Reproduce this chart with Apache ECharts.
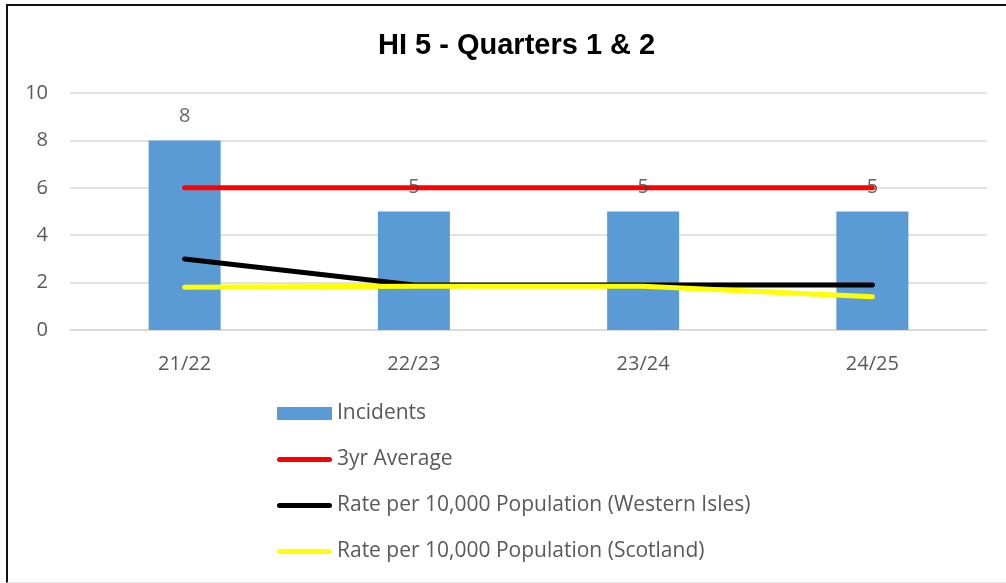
<!DOCTYPE html>
<html>
<head>
<meta charset="utf-8">
<script src="https://cdn.jsdelivr.net/npm/echarts@6/dist/echarts.min.js"></script>
<style>
  html, body { margin: 0; padding: 0; background: #fff; }
  #frame { position: absolute; left: 6px; top: 4px; width: 1010px; height: 576px;
           border-left: 2px solid #111; border-top: 2px solid #111; border-bottom: 1px solid #e6e6e6; }
  #chart { position: absolute; left: 0; top: 0; width: 1006px; height: 583px; }
</style>
</head>
<body>
<div id="frame"></div>
<div id="chart"></div>
<script>
const categories = ['21/22', '22/23', '23/24', '24/25'];
const incidents = [8, 5, 5, 5];
const threeYrAverage = [6, 6, 6, 6];
const rateWesternIsles = [3.0, 1.9, 1.9, 1.9];
const rateScotland = [1.8, 1.85, 1.85, 1.4];
const yTicks = { min: 0, max: 10, interval: 2 };

const FONT = '"Open Sans", sans-serif';
const LINE_ICON = 'path://M2.5,0 L52.5,0 A2.5,2.5 0 0 1 52.5,5 L2.5,5 A2.5,2.5 0 0 1 2.5,0 Z';
const chart = echarts.init(document.getElementById('chart'), null, { renderer: 'canvas' });

const lineSeries = (name, data, color) => ({
  name, type: 'line', data, symbol: 'none', showSymbol: false,
  lineStyle: { color, width: 5, cap: 'round', join: 'round' },
  itemStyle: { color },
  z: 3
});

chart.setOption({
  animation: false,
  backgroundColor: 'transparent',
  title: {
    text: 'HI 5 - Quarters 1 & 2',
    left: 373, top: 26,
    textStyle: { fontFamily: '"Liberation Sans", Arial, sans-serif', fontWeight: 'bold', fontSize: 29, color: '#000' }
  },
  grid: { left: 70, right: 19, top: 93, bottom: 253, containLabel: false },
  xAxis: {
    type: 'category', data: categories, boundaryGap: true,
    axisLine: { lineStyle: { color: '#d9d9d9', width: 1.5 } },
    axisTick: { show: false },
    axisLabel: { fontFamily: FONT, fontSize: 20, color: '#595959', margin: 24 }
  },
  yAxis: {
    type: 'value', min: yTicks.min, max: yTicks.max, interval: yTicks.interval,
    axisLine: { show: false }, axisTick: { show: false },
    splitLine: { lineStyle: { color: '#d9d9d9', width: 1.5 } },
    axisLabel: { fontFamily: FONT, fontSize: 20, color: '#595959', margin: 22 }
  },
  legend: {
    orient: 'vertical', left: 277, top: 403, padding: 0,
    itemWidth: 55, itemHeight: 13, itemGap: 25,
    symbolKeepAspect: true,
    textStyle: { fontFamily: FONT, fontSize: 21, lineHeight: 20, color: '#595959' },
    data: [
      { name: 'Incidents', icon: 'rect' },
      { name: '3yr Average', icon: LINE_ICON },
      { name: 'Rate per 10,000 Population (Western Isles)', icon: LINE_ICON },
      { name: 'Rate per 10,000 Population (Scotland)', icon: LINE_ICON }
    ]
  },
  series: [
    {
      name: 'Incidents', type: 'bar', data: incidents, barWidth: 72,
      itemStyle: { color: '#5B9BD5' }, z: 2
    },
    lineSeries('3yr Average', threeYrAverage, '#FF0000'),
    lineSeries('Rate per 10,000 Population (Western Isles)', rateWesternIsles, '#000000'),
    lineSeries('Rate per 10,000 Population (Scotland)', rateScotland, '#FFFF00'),
    {
      name: 'IncidentLabels', type: 'scatter', data: incidents, symbolSize: 0,
      silent: true, z: 10,
      label: { show: true, position: 'top', distance: 14, fontFamily: FONT, fontSize: 20, color: '#404040' }
    }
  ]
});
</script>
</body>
</html>
